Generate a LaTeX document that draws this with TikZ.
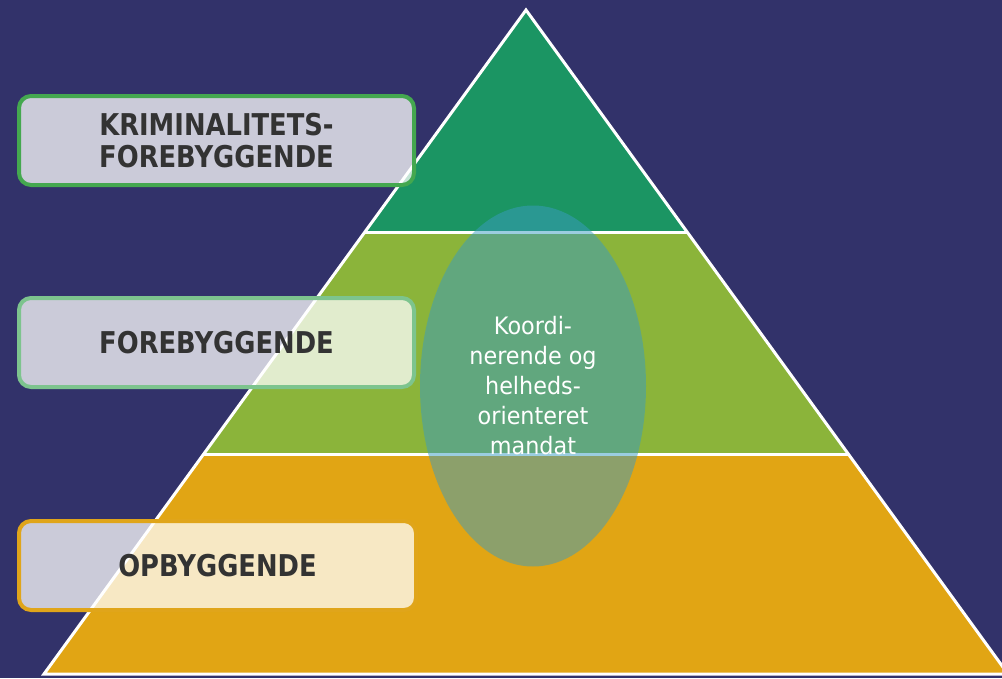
\documentclass[tikz,border=0pt]{standalone}
\usepackage{fontspec}
\setmainfont{DejaVu Sans}
\newfontfamily\labfont[FakeStretch=0.86]{DejaVu Sans}
\newfontfamily\ellfont[FakeStretch=0.93]{DejaVu Sans}
\usetikzlibrary{shapes.geometric,calc}
\definecolor{bgblue}{HTML}{32326A}
\definecolor{tiertop}{HTML}{1B9563}
\definecolor{tiermid}{HTML}{8BB43A}
\definecolor{tierbot}{HTML}{E1A514}
\definecolor{ellc}{HTML}{399CC2}
\definecolor{bordA}{HTML}{44A84F}
\definecolor{bordB}{HTML}{7DC48E}
\definecolor{bordC}{HTML}{E0A51A}
\definecolor{txtgray}{HTML}{333333}
\tikzset{
  labelbox/.style={draw=#1, line width=4pt, rounded corners=12pt, fill=white,
    fill opacity=0.75, text opacity=1, minimum width=395pt, minimum height=89pt,
    inner sep=0pt, align=center, text=txtgray,
    font=\labfont\bfseries\fontsize{30}{32}\selectfont},
  tierline/.style={white, line width=3pt},
}
\begin{document}
\begin{tikzpicture}[x=1pt,y=-1pt]
\useasboundingbox (0,0) rectangle (1002,678);
\fill[bgblue] (0,0) rectangle (1002,678);
\coordinate (A) at (526,10);
\coordinate (BL) at (44,674);
\coordinate (BR) at (1008,674);
\begin{scope}
  \clip (A) -- (BL) -- (BR) -- cycle;
  \fill[tiertop] (0,0) rectangle (1002,232);
  \fill[tiermid] (0,232) rectangle (1002,454);
  \fill[tierbot] (0,454) rectangle (1002,678);
  \draw[tierline] (0,232) -- (1002,232);
  \draw[tierline] (0,454) -- (1002,454);
\end{scope}
\draw[tierline, line join=miter] (A) -- (BL) -- (BR) -- cycle;
% ellipse
\node[ellipse, fill=ellc, fill opacity=0.5, text opacity=1, minimum width=226pt,
  minimum height=361pt, inner sep=0pt, text=white, align=center,
  font=\ellfont\fontsize{24}{30}\selectfont] (ell) at (533,386)
  {Koordi-\\nerende og\\helheds-\\orienteret\\mandat};
% label boxes
\node[labelbox=bordA] (kf) at (216.5,140.5) {KRIMINALITETS-\\FOREBYGGENDE};
\node[labelbox=bordB] (fb) at (216.5,342.5) {FOREBYGGENDE};
\node[labelbox=bordC, minimum width=397pt] (ob) at (217.5,565.5) {OPBYGGENDE};
\end{tikzpicture}
\end{document}
